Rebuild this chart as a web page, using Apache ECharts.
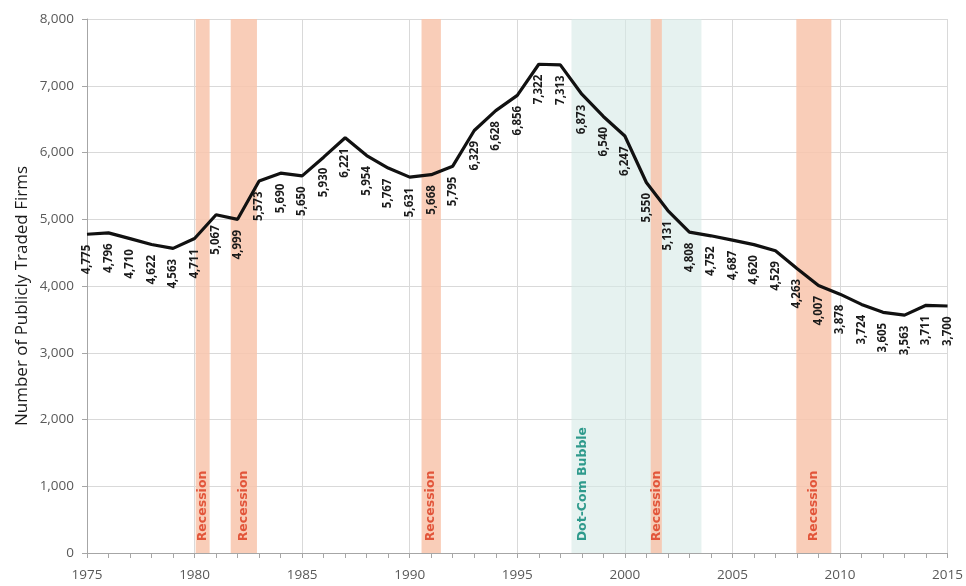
<!DOCTYPE html>
<html><head><meta charset="utf-8">
<script src="https://cdn.jsdelivr.net/npm/echarts@6/dist/echarts.min.js"></script>
<style>html,body{margin:0;padding:0;background:#fff}#c{width:966px;height:586px}</style>
</head><body><div id="c"></div>
<script>
const years = [1975,1976,1977,1978,1979,1980,1981,1982,1983,1984,1985,1986,1987,1988,1989,1990,1991,1992,1993,1994,1995,1996,1997,1998,1999,2000,2001,2002,2003,2004,2005,2006,2007,2008,2009,2010,2011,2012,2013,2014,2015];
const firms = [4775,4796,4710,4622,4563,4711,5067,4999,5573,5690,5650,5930,6221,5954,5767,5631,5668,5795,6329,6628,6856,7322,7313,6873,6540,6247,5550,5131,4808,4752,4687,4620,4529,4263,4007,3878,3724,3605,3563,3711,3700];
const recessions = [[1980.05,1980.7],[1981.68,1982.9],[1990.55,1991.45],[2001.2,2001.72],[2007.97,2009.6]];
const bubble = [1997.52,2003.56];
const yTicks = {min:0,max:8000,interval:1000};
const xTicks = {min:1975,max:2015,interval:5};
const yTitle = 'Number of Publicly Traded Firms';

const fmt = v => v.toLocaleString('en-US');
const bandLabel = (txt,color,pos) => ({show:true,formatter:txt,position:pos,rotate:90,align:'left',verticalAlign:'middle',
  color:color,fontFamily:'DejaVu Sans, Arial',fontWeight:'bold',fontSize:12.5});

const chart = echarts.init(document.getElementById('c'));
chart.setOption({
  animation:false,
  grid:{left:87,right:18,top:19,bottom:33},
  graphic:[{type:'text',x:22,y:296,rotation:Math.PI/2,
    style:{text:yTitle,fill:'#1a1a1a',font:'17px "Open Sans", Arial',textAlign:'center',textVerticalAlign:'middle'}}],
  xAxis:{type:'value',min:xTicks.min,max:xTicks.max,interval:xTicks.interval,
    axisLine:{show:true,lineStyle:{color:'#a6a6a6'}},
    axisTick:{show:true,length:5,lineStyle:{color:'#a6a6a6'}},
    minorTick:{show:true,splitNumber:5,length:5,lineStyle:{color:'#a6a6a6'}},
    splitLine:{show:true,lineStyle:{color:'#d9d9d9'}},
    axisLabel:{color:'#595959',fontSize:13.5,fontFamily:'Open Sans, Arial',margin:15,formatter:v=>String(v)}},
  yAxis:{type:'value',min:yTicks.min,max:yTicks.max,interval:yTicks.interval,
    axisLine:{show:true,lineStyle:{color:'#a6a6a6'}},
    axisTick:{show:true,length:5,lineStyle:{color:'#a6a6a6'}},
    splitLine:{show:true,lineStyle:{color:'#d9d9d9'}},
    axisLabel:{color:'#595959',fontSize:13.5,fontFamily:'Open Sans, Arial',margin:13,formatter:v=>fmt(v)}},
  series:[
    {type:'line',data:[],silent:true,
      markArea:{silent:true,itemStyle:{color:'rgba(214,234,230,0.6)'},
        data:[[{xAxis:bubble[0],yAxis:0,label:bandLabel('Dot-Com Bubble','#2e9a8c',['8.5%','97.8%'])},{xAxis:bubble[1],yAxis:8000}]]}},
    {type:'line',data:[],silent:true,
      markArea:{silent:true,itemStyle:{color:'rgba(248,196,172,0.85)'},
        data:recessions.map(r=>[{xAxis:r[0],yAxis:0,label:bandLabel('Recession','#e2553a',['50%','97.8%'])},{xAxis:r[1],yAxis:8000}])}},
    {type:'line',data:years.map((y,i)=>[y,firms[i]]),showSymbol:true,symbol:'circle',symbolSize:1,
      itemStyle:{color:'rgba(0,0,0,0)'},
      lineStyle:{color:'#111',width:3.2},
      label:{show:true,position:'bottom',rotate:90,align:'right',verticalAlign:'middle',distance:10,
        formatter:p=>fmt(p.value[1]),color:'#1a1a1a',fontSize:11.5,fontWeight:'bold',fontFamily:'Liberation Sans Narrow, Open Sans, Arial'}}
  ]
});
</script></body></html>
